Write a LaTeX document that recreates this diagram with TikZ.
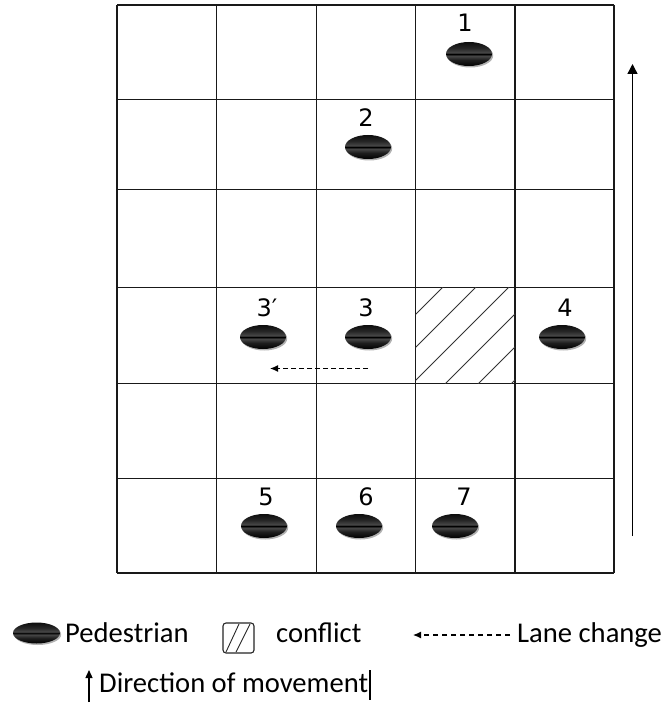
\documentclass[tikz,border=0pt]{standalone}
\usepackage{fontspec}
\setmainfont{Carlito}
\newfontfamily\numfont{DejaVu Sans}
\usetikzlibrary{arrows.meta,shadows,shapes.geometric}
\pgfdeclareverticalshading{pedshade}{100bp}{color(0bp)=(black); color(25bp)=(black); color(38bp)=(black!88); color(46bp)=(black!72); color(50bp)=(black); color(53bp)=(black!72); color(62bp)=(black!85); color(75bp)=(black!95); color(100bp)=(black)}
\begin{document}
\begin{tikzpicture}[x=1pt,y=-1pt,
  gridline/.style={line width=1.6pt, draw=black!90},
  ped/.style={ellipse, minimum width=46pt, minimum height=24pt, inner sep=0pt, shading=pedshade,
    drop shadow={shadow xshift=1.2pt, shadow yshift=-1.5pt, opacity=0.3, fill=black}},
  legped/.style={ped, minimum width=47pt, minimum height=21pt},
  num/.style={font=\numfont\fontsize{24}{27}\selectfont, inner sep=0pt},
  legtext/.style={font=\fontsize{28.6}{31}\selectfont, inner sep=0pt, anchor=base west},
  hatch/.style={line width=0.8pt, draw=black!80},
  dasharrow/.style={line width=1.2pt, dash pattern=on 5pt off 3pt, -{Latex[length=8pt,width=7pt]}},
  movearrow/.style={line width=1.4pt, -{Triangle[length=10pt,width=10pt]}}
]
\useasboundingbox (0,0) rectangle (668,708);
\fill[white] (0,0) rectangle (668,708);

% grid
\foreach \x in {117,216.5,316.5,415.5,515,614}
  \draw[gridline] (\x,5) -- (\x,573);
\foreach \y in {5,99.5,189.5,287.5,383.5,478.5,573}
  \draw[gridline] (117,\y) -- (614,\y);

% conflict cell hatching
\begin{scope}
  \clip (415.5,287.5) rectangle (515,383.5);
  \foreach \c in {730,763,796,829,862,895}
    \draw[hatch] (\c-384,384) -- (\c-287,287);
\end{scope}

% pedestrians and labels
\node[ped] (p1) at (469,54) {};
\node[num] (n1) at (465,23) {1};
\node[ped] (p2) at (368,147) {};
\node[num] (n2) at (366,118) {2};
\node[ped] (p3b) at (263,337) {};
\node[num] (n3b) at (267,308) {3′};
\node[ped] (p3) at (368,337) {};
\node[num] (n3) at (366,308) {3};
\node[ped] (p4) at (562,337) {};
\node[num] (n4) at (565,308) {4};
\node[ped] (p5) at (264,526) {};
\node[num] (n5) at (266,497) {5};
\node[ped] (p6) at (359,526) {};
\node[num] (n6) at (366,497) {6};
\node[ped] (p7) at (455,526) {};
\node[num] (n7) at (464,497) {7};

% lane change arrow in grid
\coordinate (lcs) at (368,368.5);
\coordinate (lce) at (270,368.5);
\draw[dasharrow] (lcs) -- (lce);

% direction of movement arrow
\coordinate (mvs) at (632.5,536);
\coordinate (mve) at (632.5,64);
\draw[movearrow] (mvs) -- (mve);

% legend
\node[legped] (lp) at (36.5,633) {};
\node[legtext] (lpt) at (65,642) {Pedestrian};
\draw[line width=1.1pt, draw=black!85, rounded corners=3pt] (223,623) rectangle (254,653);
\draw[line width=0.9pt, draw=black!85] (226,652) -- (239,624) (236,652) -- (250,624);
\node[legtext] (lct) at (276,642) {conflict};
\coordinate (las) at (510,635);
\coordinate (lae) at (413,635);
\draw[line width=1.1pt, dash pattern=on 5pt off 4pt, -{Latex[length=8pt,width=7pt]}] (las) -- (lae);
\node[legtext] (llt) at (517,642) {Lane change};
\coordinate (lms) at (89,702);
\coordinate (lme) at (89,670);
\draw[line width=1.3pt, -{Triangle[length=8pt,width=7pt]}] (lms) -- (lme);
\node[legtext] (ldt) at (99,692) {Direction of movement};
\draw[line width=2.2pt] (370,670) -- (370,700);
\end{tikzpicture}
\end{document}
